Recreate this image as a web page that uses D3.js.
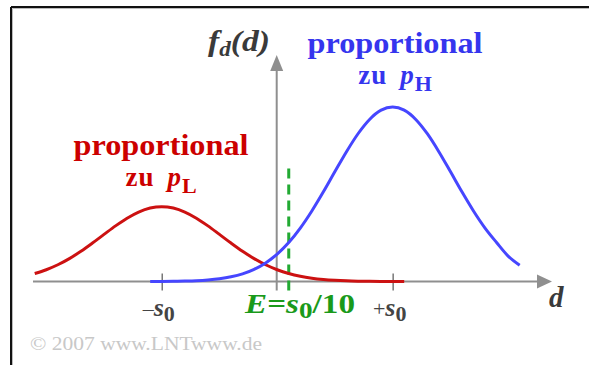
<!DOCTYPE html>
<html>
<head>
<meta charset="utf-8">
<script src="https://cdn.jsdelivr.net/npm/d3@7/dist/d3.min.js"></script>
<style>
  html, body { margin: 0; padding: 0; background: #fff; }
  svg { display: block; }
  text { font-family: "Liberation Serif", "Times New Roman", serif; }
</style>
</head>
<body>
<svg id="chart" width="589" height="365"></svg>
<script>
// Decision variable d in units of s0; densities scaled by sigma*sqrt(2*pi)
const dRed = [-2.1,-2.0,-1.9,-1.8,-1.7,-1.6,-1.5,-1.4,-1.3,-1.2,-1.1,-1.0,-0.9,-0.8,-0.7,-0.6,-0.5,
              -0.4,-0.3,-0.2,-0.1,0.0,0.1,0.2,0.3,0.4,0.5,0.6,0.7,0.8,0.9,1.0,1.1];
const fRed = [0.0320,0.0472,0.0671,0.0919,0.1212,0.1542,0.1889,0.2232,0.2540,0.2786,0.2945,0.3000,
              0.2945,0.2786,0.2540,0.2232,0.1889,0.1542,0.1212,0.0919,0.0671,0.0472,0.0320,0.0209,
              0.0132,0.0080,0.0047,0.0026,0.0014,0.0008,0.0004,0.0002,0.0001];
const dBlue = [-1.1,-1.0,-0.9,-0.8,-0.7,-0.6,-0.5,-0.4,-0.3,-0.2,-0.1,0.0,0.1,0.2,0.3,0.4,0.5,
               0.6,0.7,0.8,0.9,1.0,1.1,1.2,1.3,1.4,1.5,1.6,1.7,1.8,1.9,2.0,2.1];
const fBlue = [0.0002,0.0004,0.0009,0.0018,0.0033,0.0062,0.0109,0.0187,0.0307,0.0489,0.0747,0.1102,
               0.1565,0.2143,0.2829,0.3597,0.4409,0.5207,0.5927,0.6501,0.6872,0.7000,0.6872,0.6501,
               0.5927,0.5207,0.4409,0.3597,0.2829,0.2143,0.1565,0.1020,0.0650];
const tickValues = [-1, 1];
const tickSigns = ["\u2013", "+"];
const threshold = 0.1;   // E = s0/10
const yTop = 0.7;

const svg = d3.select("#chart");

// frame (top and left edges)
svg.append("line").attr("x1", 11).attr("y1", 7).attr("x2", 589).attr("y2", 7)
  .attr("stroke", "#111").attr("stroke-width", 2);
svg.append("line").attr("x1", 11).attr("y1", 7).attr("x2", 11).attr("y2", 365)
  .attr("stroke", "#111").attr("stroke-width", 2);
svg.append("line").attr("x1", 12.5).attr("y1", 8.5).attr("x2", 589).attr("y2", 8.5)
  .attr("stroke", "#bbb").attr("stroke-width", 1);
svg.append("line").attr("x1", 12.5).attr("y1", 8.5).attr("x2", 12.5).attr("y2", 365)
  .attr("stroke", "#bbb").attr("stroke-width", 1);

const x = d3.scaleLinear().domain([-2.115, 2.38]).range([33, 552]);
const y = d3.scaleLinear().domain([0, yTop]).range([281.5, 107]);
const axisColor = "#8f8f8f";
const y0 = y(0);

// horizontal axis
const xAxis = d3.axisBottom(x).tickValues(tickValues).tickSizeInner(9).tickSizeOuter(0).tickFormat("");
const gx = svg.append("g").attr("transform", `translate(0,${y0})`).call(xAxis);
gx.select(".domain").attr("stroke", axisColor).attr("stroke-width", 2).attr("d", `M${x.range()[0]},0H${x.range()[1] - 12}`);
gx.selectAll(".tick line").attr("stroke", "#777").attr("stroke-width", 1.5).attr("y1", -8).attr("y2", 9);
svg.append("path")
  .attr("d", `M${x.range()[1]},${y0}L${x.range()[1] - 15},${y0 - 7}L${x.range()[1] - 15},${y0 + 7}Z`)
  .attr("fill", axisColor);

// vertical axis
const xa = x(0) - 0.5;
svg.append("line").attr("x1", xa).attr("x2", xa).attr("y1", y0 + 9).attr("y2", 68)
  .attr("stroke", axisColor).attr("stroke-width", 2);
svg.append("path")
  .attr("d", `M${xa},55L${xa - 6.5},71L${xa + 6.5},71Z`).attr("fill", axisColor);

// threshold line
svg.append("line").attr("x1", x(threshold)).attr("x2", x(threshold))
  .attr("y1", y0 + 9).attr("y2", 167)
  .attr("stroke", "#22aa33").attr("stroke-width", 3).attr("stroke-dasharray", "10,6");

// density curves
const line = d3.line().x(d => x(d[0])).y(d => y(d[1])).curve(d3.curveMonotoneX);
svg.append("path").datum(d3.zip(dRed, fRed)).attr("d", line)
  .attr("fill", "none").attr("stroke", "#cc1111").attr("stroke-width", 3);
svg.append("path").datum(d3.zip(dBlue, fBlue)).attr("d", line)
  .attr("fill", "none").attr("stroke", "#4646ff").attr("stroke-width", 3);

// tick labels
const tl = svg.selectAll("text.tick-label").data(tickValues).enter().append("text")
  .attr("class", "tick-label")
  .attr("x", d => x(d) - 3).attr("y", 316)
  .attr("text-anchor", "middle").attr("fill", "#444").attr("font-weight", "bold");
tl.append("tspan").attr("font-size", 22).attr("font-weight", "normal").text((d, i) => tickSigns[i]);
tl.append("tspan").attr("font-size", 26).attr("font-style", "italic").text("s");
tl.append("tspan").attr("font-size", 22).attr("dy", 5).text("0");

// axis names
const fl = svg.append("text").attr("x", 208).attr("y", 51).attr("fill", "#3a3a3a")
  .attr("font-weight", "bold").attr("font-style", "italic")
  .attr("textLength", 62).attr("lengthAdjust", "spacingAndGlyphs");
fl.append("tspan").attr("font-size", 29).text("f");
fl.append("tspan").attr("font-size", 20).attr("dy", 5).text("d");
fl.append("tspan").attr("font-size", 29).attr("dy", -5).text("(d)");
svg.append("text").attr("x", 549).attr("y", 307).attr("fill", "#3a3a3a")
  .attr("font-weight", "bold").attr("font-style", "italic").attr("font-size", 29).text("d");

// threshold label
const el = svg.append("text").attr("x", 245).attr("y", 313).attr("fill", "#1a9a1a")
  .attr("font-weight", "bold").attr("font-size", 28)
  .attr("textLength", 110).attr("lengthAdjust", "spacingAndGlyphs");
el.append("tspan").attr("font-style", "italic").text("E");
el.append("tspan").text("=");
el.append("tspan").attr("font-style", "italic").text("s");
el.append("tspan").attr("font-size", 23).attr("dy", 5).text("0");
el.append("tspan").attr("dy", -5).text("/10");

// annotations
function note(cx, base, color, sub) {
  svg.append("text").attr("x", cx).attr("y", base).attr("text-anchor", "middle")
    .attr("fill", color).attr("font-weight", "bold").attr("font-size", 29)
    .attr("textLength", 175).attr("lengthAdjust", "spacingAndGlyphs").text("proportional");
  const t = svg.append("text").attr("x", cx).attr("y", base + 31).attr("text-anchor", "middle")
    .attr("fill", color).attr("font-weight", "bold");
  t.append("tspan").attr("font-size", 27).attr("letter-spacing", 1).text("zu");
  t.append("tspan").attr("font-size", 27).attr("font-style", "italic").attr("dx", 13).text("p");
  t.append("tspan").attr("font-size", 22).attr("dy", 7).attr("dx", 1).text(sub);
}
note(161, 155, "#cc0000", "L");
note(395, 53, "#3535ee", "H");

// copyright
svg.append("text").attr("x", 30).attr("y", 350).attr("fill", "#c8c8c8").attr("font-size", 19)
  .attr("textLength", 232).attr("lengthAdjust", "spacingAndGlyphs").text("\u00a9 2007 www.LNTwww.de");
</script>
</body>
</html>
